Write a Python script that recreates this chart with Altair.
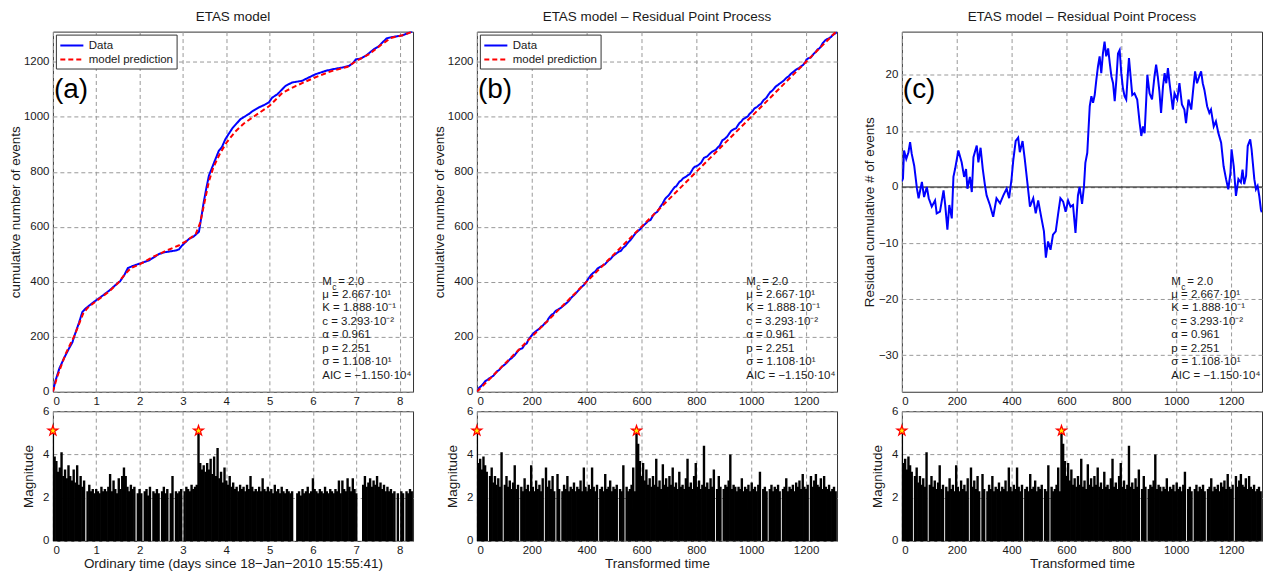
import altair as alt
import pandas as pd

FONT = "Liberation Sans"
SERIES = ["Data", "model prediction"]

# ---------------- panel (a): cumulative number, ordinary time (days) ----------------
A_DATA_DAY = [0, 0.05, 0.15, 0.25, 0.37, 0.45, 0.5, 0.6, 0.68, 0.75, 0.85, 1.0, 1.15, 1.3, 1.48,
              1.55, 1.65, 1.73, 1.85, 2.0, 2.22, 2.46, 2.6, 2.84, 2.91, 2.98, 3.14, 3.25, 3.37, 3.42,
              3.48, 3.54, 3.6, 3.72, 3.83, 3.9, 3.98, 4.14, 4.33, 4.52, 4.6, 4.75, 4.9, 4.98, 5.06,
              5.18, 5.37, 5.52, 5.75, 5.98, 6.06, 6.29, 6.45, 6.7, 6.83, 6.92, 6.99, 7.1, 7.22, 7.4,
              7.53, 7.6, 7.7, 7.76, 7.9, 8.06, 8.2, 8.29]
A_DATA_N = [0, 35, 85, 120, 157, 180, 205, 250, 290, 302, 315, 333, 350, 368, 393,
            402, 425, 450, 458, 466, 478, 502, 508, 514, 518, 532, 556, 565, 582, 630,
            689, 740, 786, 834, 877, 890, 919, 958, 992, 1010, 1020, 1034, 1045, 1052, 1070,
            1082, 1113, 1125, 1131, 1149, 1155, 1167, 1173, 1180, 1185, 1195, 1209, 1212, 1222, 1245,
            1258, 1270, 1285, 1288, 1292, 1296, 1305, 1310]
A_MODEL_DAY = [0, 0.1, 0.3, 0.5, 0.7, 0.8, 1.0, 1.3, 1.5, 1.65, 1.8, 2.0, 2.3, 2.6, 2.9, 3.1, 3.3,
               3.4, 3.5, 3.6, 3.7, 3.85, 4.0, 4.2, 4.4, 4.7, 5.0, 5.3, 5.6, 6.0, 6.4, 6.8, 7.0,
               7.3, 7.6, 7.8, 8.1, 8.31]
A_MODEL_N = [0, 55, 140, 205, 285, 305, 330, 365, 395, 425, 450, 463, 490, 512, 532, 550, 575,
             615, 690, 765, 815, 865, 905, 945, 975, 1008, 1040, 1088, 1112, 1140, 1165, 1182, 1203,
             1228, 1265, 1287, 1298, 1311]

# ---------------- panels (b)/(c): residual (data - model) in transformed time ----------------
RES_T = [0, 4, 8, 16, 24, 30, 36, 45, 55, 61, 73, 81, 91, 98, 109, 121, 127, 139, 152, 158,
         166, 173, 182, 188, 194, 206, 218, 227, 234, 239, 248, 255, 261, 273, 279, 287, 295, 303, 309, 321,
         333, 345, 358, 370, 382, 391, 400, 406, 415, 424, 430, 440, 448, 458, 467, 479, 488, 497, 509, 518,
         525, 533, 542, 551, 561, 570, 578, 588, 597, 606, 615, 624, 633, 642, 648, 657, 664, 669, 676, 685,
         691, 697, 703, 709, 715, 721, 727, 733, 739, 745, 752, 758, 764, 770, 776, 782, 788, 794, 800, 806,
         812, 818, 824, 828, 834, 840, 848, 858, 867, 873, 879, 885, 891, 895, 903, 912, 921, 927, 933, 939,
         945, 952, 958, 964, 970, 976, 982, 988, 994, 1004, 1012, 1021, 1030, 1036, 1045, 1055, 1062, 1069, 1076, 1084,
         1091, 1097, 1103, 1113, 1121, 1127, 1137, 1145, 1154, 1164, 1173, 1182, 1190, 1198, 1202, 1210, 1218, 1227, 1236, 1242,
         1248, 1255, 1261, 1270, 1275, 1285, 1291, 1297, 1303, 1309, 1312]
RES_V = [1, 1.5, 6.5, 5, 6.2, 8, 5.9, 3.8, -0.3, -2, 0.9, -1.8, 0, -2, -3.5, -2.4, -4.7, -4.4, -0.6, -3.2,
         -7.6, -3.2, -5.6, 1.8, 3.2, 6.5, 4.4, 1.8, 3.2, -0.3, 1.8, -0.9, 5.3, 7.4, 4.4, 7, 3.2, 0.3, -1.5, -3.2,
         -5.3, -2, -2.9, -1.5, -0.3, -2, 1.5, 4.7, 8.2, 8.8, 6.2, 8.2, 5, 0.6, -3.5, -2, -4.7, -2.4, -5.6, -7.9,
         -12.6, -9.7, -11.2, -8.5, -7.9, -4.7, -2, -2.6, -4.4, -2.4, -3.5, -3.2, -8.2, -1.5, 0, -3, 0.2, 4.3, 6.1, 14.4,
         16.2, 15, 16.4, 19.1, 21.5, 23.3, 20.3, 23.8, 25.9, 23.3, 24.7, 22.1, 19.7, 18.5, 15.3, 19.1, 23.8, 24.4, 20.3, 17.6,
         16.2, 15.6, 20.3, 23, 19.7, 16.4, 16.7, 15.6, 11.4, 9.1, 10.8, 9.6, 15.6, 20, 16.7, 15.6, 19.7, 21.8, 19.7, 17,
         13.2, 17.9, 20.3, 18.5, 21.2, 18.5, 16.2, 13.8, 16.7, 15.6, 18.5, 14.7, 13.8, 11.4, 15.6, 13.8, 17.3, 20.6, 18.5, 19.7,
         20.6, 18.5, 17.3, 14.4, 13.2, 13.8, 10.8, 11.7, 9.6, 7.9, 3.7, 1.4, -0.4, 2.5, 6.7, 3.7, -1.6, 1.4, 0.8, 3.1,
         0.5, 2, 7.3, 8.5, 6.7, 1.4, -0.4, 0.2, -1.6, -4, -4.5]
B_MODEL_T = [0, 1313]
B_MODEL_N = [0, 1313]

# ---------------- magnitudes ----------------
MAG_A_STEP = 0.04   # days between skyline samples (ordinary time)
MAG_A = [
    5.1, 3.9, 3.7, 3.2, 3.4, 4.1, 3.0, 3.3, 2.9, 3.5, 3.0, 2.8, 3.3, 2.7, 3.5, 2.6, 3.0, 2.5, 2.8, 0, 2.3, 2.6, 2.3, 2.4, 2.2,
    2.4, 2.3, 2.2, 2.5, 2.3, 2.4, 2.3, 2.5, 3.1, 2.3, 2.8, 2.4, 2.2, 2.9, 2.4, 3.0, 3.4, 3.0, 2.5, 2.3, 2.6, 2.4, 2.5, 0, 2.2,
    2.4, 2.2, 0, 2.3, 2.4, 2.1, 2.5, 0, 2.3, 2.2, 2.4, 2.2, 0, 2.3, 2.5, 2.2, 2.4, 0, 2.2, 3.0, 0, 2.3, 2.2, 2.3, 2.4,
    0, 2.3, 2.5, 2.4, 2.3, 2.6, 2.4, 2.5, 2.6, 5.1, 3.6, 3.3, 3.5, 3.2, 3.6, 3.3, 3.8, 3.1, 3.9, 3.0, 4.3, 2.9, 3.2, 2.7, 3.4,
    2.8, 2.6, 3.0, 2.5, 2.7, 2.4, 2.5, 2.3, 2.6, 2.4, 2.5, 2.3, 2.6, 2.4, 3.0, 2.5, 2.3, 2.4, 2.3, 2.5, 2.3, 2.9, 2.4, 2.3, 2.5,
    2.3, 2.4, 2.2, 2.6, 2.3, 2.4, 2.2, 2.5, 2.3, 2.2, 2.4, 2.3, 2.2, 2.3, 0, 0, 2.2, 2.3, 2.1, 2.4, 2.2, 2.3, 2.5, 2.2, 2.3,
    2.9, 2.4, 2.3, 2.2, 2.4, 2.3, 2.2, 2.5, 2.3, 2.2, 2.4, 2.3, 2.2, 2.4, 2.3, 2.8, 2.2, 2.8, 2.4, 2.3, 2.9, 2.5, 2.3, 2.9, 2.4,
    2.2, 0, 0, 0, 2.6, 3.0, 2.5, 2.7, 2.9, 2.5, 2.8, 2.6, 3.0, 2.5, 2.7, 2.4, 2.6, 2.3, 2.5, 2.3, 2.4, 2.2, 2.3, 0, 2.2,
    0, 2.3, 2.2, 0, 2.3, 2.2, 2.4, 2.3,
]
MAG_T_STEP = 6      # transformed-time units between skyline samples
MAG_T = [
    5.1, 3.6, 3.8, 3.3, 3.9, 3.5, 3.2, 0, 3.0, 3.4, 2.7, 3.0, 2.6, 2.9, 2.5, 4.1, 0, 2.6, 3.0, 2.5, 2.8, 2.4, 2.7, 3.5, 2.4,
    2.6, 0, 2.5, 2.3, 2.9, 2.4, 2.6, 2.3, 3.5, 2.5, 2.3, 2.8, 2.4, 2.6, 2.3, 2.9, 0, 3.4, 2.5, 2.8, 2.4, 3.0, 2.3, 0, 3.1,
    2.4, 0, 2.3, 2.6, 2.4, 3.0, 2.3, 2.5, 2.4, 2.7, 2.3, 2.5, 2.4, 2.8, 2.3, 3.4, 2.5, 2.3, 2.6, 2.4, 3.4, 2.5, 2.3, 2.6, 0,
    2.4, 2.5, 2.3, 3.1, 2.4, 2.5, 2.8, 2.3, 2.5, 2.4, 2.6, 0, 2.4, 2.3, 3.5, 0, 2.5, 2.3, 2.4, 2.6, 3.4, 2.3, 5.1, 4.5, 3.7,
    3.0, 3.6, 2.8, 3.3, 2.6, 2.9, 2.5, 3.0, 2.6, 3.8, 2.5, 2.8, 2.4, 3.55, 2.6, 2.9, 2.5, 3.0, 2.6, 3.4, 2.5, 2.7, 2.4, 3.2, 2.5,
    2.6, 2.4, 2.9, 3.8, 2.5, 2.7, 2.4, 3.0, 3.6, 2.5, 2.8, 2.4, 2.6, 4.4, 2.5, 2.7, 2.4, 2.9, 2.5, 3.3, 0, 2.4, 3.0, 2.5, 0,
    2.4, 2.6, 2.5, 2.8, 4.0, 2.4, 2.6, 2.5, 2.3, 2.5, 2.4, 2.9, 2.3, 2.5, 2.4, 2.6, 2.3, 2.7, 2.4, 2.5, 2.3, 2.6, 3.2, 0, 2.4,
    2.5, 2.3, 0, 2.4, 2.6, 2.3, 2.5, 2.4, 2.6, 2.3, 0, 2.4, 2.5, 2.9, 2.3, 2.5, 2.4, 2.6, 2.3, 2.7, 2.5, 2.8, 2.4, 3.1, 2.5,
    2.4, 2.6, 0, 3.0, 2.5, 2.8, 3.1, 2.6, 2.5, 2.9, 2.4, 3.0, 2.5, 2.4, 2.6, 2.3, 2.4, 2.5, 2.3,
]
STAR_A_X = [0.0, 3.36]
STAR_T_X = [0, 582]
STAR_M = [5.1, 5.1]

# parameter block: first line is "M" + subscript "c" + "= 2.0", then the rest
PARAM_FIRST = ["M", "c", "= 2.0"]
PARAM_LINES = ["\u03bc = 2.667\u00b710\u00b9", "K = 1.888\u00b710\u207b\u00b9",
               "c = 3.293\u00b710\u207b\u00b2", "\u03b1 = 0.961", "p = 2.251",
               "\u03c3 = 1.108\u00b710\u00b9", "AIC = \u22121.150\u00b710\u2074"]

TITLES = ["ETAS model", "ETAS model \u2013 Residual Point Process", "ETAS model \u2013 Residual Point Process"]
PANEL_LABELS = ["(a)", "(b)", "(c)"]
X_TITLE_A = "Ordinary time (days since 18\u2212Jan\u22122010 15:55:41)"
X_TITLE_T = "Transformed time"

# five-pointed star glyph (unit box), used as the symbol shape for the largest events
STAR_PATH = ("M0,-1L0.2245,-0.309L0.951,-0.309L0.363,0.118L0.588,0.809L0,0.382"
             "L-0.588,0.809L-0.363,0.118L-0.951,-0.309L-0.2245,-0.309Z")
# long horizontal legend stroke (wider than its unit box so rows stay compact)
LEGEND_STROKE = "M-1.65,0H1.65"

W, H_TOP, H_BOT = 361, 361, 130
ONE = pd.DataFrame({"k": [0]})
TXT = "#1a1a1a"
TICK_FS, TITLE_FS, PARAM_FS = 11.5, 13.5, 11.5
LINE_H = 13.5


def yaxis(values, title, extent):
    return alt.Axis(values=values, title=title, format="d", minExtent=extent, maxExtent=extent)


def xaxis(values, title=None):
    return alt.Axis(values=values, title=title, format="d")


def ptext(text, x, y, size=PARAM_FS, **kw):
    return alt.Chart(ONE).mark_text(text=text, align="left", baseline="top", font=FONT,
                                    fontSize=size, color=TXT, **kw).encode(x=alt.value(x), y=alt.value(y))


def annotations(label):
    y0 = 244.5
    m = ptext(PARAM_FIRST[0], 270, y0)
    sub = ptext(PARAM_FIRST[1], 280, y0 + 7, size=8.5)
    eq = ptext(PARAM_FIRST[2], 286, y0)
    rest = ptext(PARAM_LINES, 270, y0 + LINE_H, lineHeight=LINE_H)
    lab = alt.Chart(ONE).mark_text(text=label, align="left", baseline="middle", font=FONT,
                                   fontSize=28, color="black").encode(x=alt.value(1), y=alt.value(59))
    return [m, sub, eq, rest, lab]


def legend():
    return alt.Legend(title=None, orient="top-left", offset=3, padding=3, rowPadding=0,
                      strokeColor="#333", fillColor="white", symbolType=LEGEND_STROKE, symbolSize=196,
                      symbolOffset=5, labelOffset=9, symbolStrokeWidth=2, labelFont=FONT,
                      labelFontSize=11.5, labelColor=TXT)


def title(text):
    return alt.Title(text, font=FONT, fontSize=TITLE_FS, fontWeight="normal", color=TXT, offset=8.5)


def cum_panel(xs_data, ys_data, xs_model, ys_model, xdom, xvals, ttl, label):
    df = pd.concat([
        pd.DataFrame({"x": xs_data, "y": ys_data, "series": SERIES[0]}),
        pd.DataFrame({"x": xs_model, "y": ys_model, "series": SERIES[1]}),
    ])
    lines = alt.Chart(df).mark_line(strokeWidth=2, clip=True).encode(
        x=alt.X("x:Q", scale=alt.Scale(domain=xdom, nice=False, zero=False), axis=xaxis(xvals)),
        y=alt.Y("y:Q", scale=alt.Scale(domain=[0, 1310], nice=False),
                axis=yaxis(list(range(0, 1201, 200)), "cumulative number of events", 30)),
        color=alt.Color("series:N", scale=alt.Scale(domain=SERIES, range=["#0000ff", "#ff0000"]),
                        legend=legend()),
        strokeDash=alt.StrokeDash("series:N", scale=alt.Scale(domain=SERIES, range=[[1, 0], [5, 3]]),
                                  legend=legend()),
    )
    return alt.layer(lines, *annotations(label)).properties(width=W, height=H_TOP, title=title(ttl))


def res_panel(ttl, label):
    df = pd.DataFrame({"x": RES_T, "y": RES_V})
    zero = alt.Chart(ONE).mark_rule(color="black", strokeWidth=1).encode(y=alt.datum(0))
    line = alt.Chart(df).mark_line(strokeWidth=2, color="#0000ff", clip=True).encode(
        x=alt.X("x:Q", scale=alt.Scale(domain=[0, 1313], nice=False, zero=False),
                axis=xaxis(list(range(0, 1201, 200)))),
        y=alt.Y("y:Q", scale=alt.Scale(domain=[-36.5, 27.7], nice=False, zero=False),
                axis=yaxis([-30, -20, -10, 0, 10, 20], "Residual cumulative # of events", 25)),
    )
    return alt.layer(zero, line, *annotations(label)).properties(width=W, height=H_TOP, title=title(ttl))


def mag_panel(mags, step, stars_x, xdom, xvals, xtitle, extent):
    df = pd.DataFrame({"x": [i * step for i in range(len(mags))], "m": mags,
                       "z": [0.0] * len(mags)})
    stars = pd.DataFrame({"x": stars_x, "m": STAR_M})
    xenc = alt.X("x:Q", scale=alt.Scale(domain=xdom, nice=False, zero=False), axis=xaxis(xvals, xtitle))
    yenc = alt.Y("m:Q", scale=alt.Scale(domain=[0, 6], nice=False),
                 axis=yaxis([0, 2, 4, 6], "Magnitude", extent))
    bars = alt.Chart(df).mark_rule(color="black", strokeWidth=2.4, clip=True).encode(
        x=xenc, y=yenc, y2="z:Q")
    pts = alt.Chart(stars).mark_point(shape=STAR_PATH, size=110, filled=True, fill="#ffee00",
                                      stroke="#ff0000", strokeWidth=1.2, opacity=1).encode(x="x:Q", y="m:Q")
    return alt.layer(bars, pts).properties(width=W, height=H_BOT)


top_a = cum_panel(A_DATA_DAY, A_DATA_N, A_MODEL_DAY, A_MODEL_N, [0, 8.31], list(range(0, 9)),
                  TITLES[0], PANEL_LABELS[0])
b_data_n = [t + r for t, r in zip(RES_T, RES_V)]
top_b = cum_panel(RES_T, b_data_n, B_MODEL_T, B_MODEL_N, [0, 1313], list(range(0, 1201, 200)),
                  TITLES[1], PANEL_LABELS[1])
top_c = res_panel(TITLES[2], PANEL_LABELS[2])

bot_a = mag_panel(MAG_A, MAG_A_STEP, STAR_A_X, [0, 8.31], list(range(0, 9)), X_TITLE_A, 17)
bot_b = mag_panel(MAG_T, MAG_T_STEP, STAR_T_X, [0, 1313], list(range(0, 1201, 200)), X_TITLE_T, 17)
bot_c = mag_panel(MAG_T, MAG_T_STEP, STAR_T_X, [0, 1313], list(range(0, 1201, 200)), X_TITLE_T, 17)


def indep(c):
    return c.resolve_scale(color="independent", strokeDash="independent").resolve_legend(
        color="independent", strokeDash="independent")


def column(top, bot):
    return indep(alt.vconcat(top, bot, spacing=-3.5))


ab = indep(alt.hconcat(column(top_a, bot_a), column(top_b, bot_b), spacing=18))
chart = indep(alt.hconcat(ab, column(top_c, bot_c), spacing=24)).properties(
    padding={"left": 0, "top": 0, "right": 0, "bottom": 0}, background="white"
).configure_view(stroke="#333", strokeWidth=1).configure_axis(
    labelFont=FONT, labelFontSize=TICK_FS, labelColor=TXT, titleFont=FONT, titleFontSize=TITLE_FS,
    titleFontWeight="normal", titleColor=TXT, grid=True, gridDash=[4, 3], gridColor="#999999",
    gridOpacity=1, ticks=False, domain=False, labelPadding=4, titlePadding=0
)

chart.save("out.html", embed_options={"renderer": "svg", "actions": False})
